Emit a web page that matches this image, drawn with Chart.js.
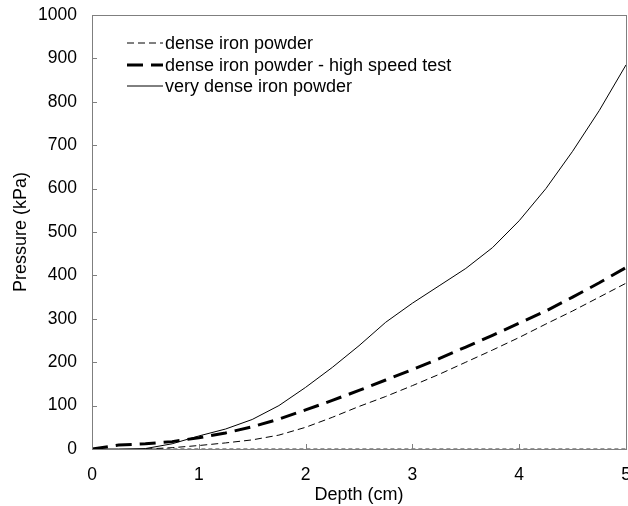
<!DOCTYPE html>
<html>
<head>
<meta charset="utf-8">
<script src="https://cdn.jsdelivr.net/npm/chart.js@4/dist/chart.umd.min.js"></script>
<style>
  html, body { margin: 0; padding: 0; background: #fff; overflow: hidden; }
  #wrap { width: 628px; height: 506px; position: relative; }
</style>
</head>
<body>
<div id="wrap"><canvas id="c"></canvas></div>
<script>
const depth = [0, 0.25, 0.5, 0.75, 1, 1.25, 1.5, 1.75, 2, 2.25, 2.5, 2.75, 3, 3.25, 3.5, 3.75, 4, 4.25, 4.5, 4.75, 5];
const denseIron     = [0, 0, 0, 3, 8, 14, 21, 32, 50, 73, 98, 121, 146, 172, 200, 228, 257, 288, 318, 350, 382];
const highSpeed     = [0, 9, 12, 17, 26, 37, 51, 69, 90, 112, 135, 159, 183, 208, 235, 262, 290, 318, 350, 383, 418];
const veryDense     = [0, 0, 1, 12, 30, 46, 68, 100, 142, 188, 238, 292, 336, 376, 416, 464, 526, 600, 686, 780, 885];
const baselineDepth = [0.5, 5];
const baselineValue = [0, 0];
const seriesNames = ["dense iron powder", "dense iron powder - high speed test", "very dense iron powder"];
const xTicks = [0, 1, 2, 3, 4, 5];
const yTicks = [0, 100, 200, 300, 400, 500, 600, 700, 800, 900, 1000];

const pts = (xs, ys) => xs.map((x, i) => ({x: x, y: ys[i]}));
const FONT = "'Liberation Sans', Arial, sans-serif";
const FS = 18;
const TFS = 17.5;
const AXIS = '#7f7f7f';

const frame = {
  id: 'frame',
  afterDatasetsDraw(chart) {
    const {ctx, chartArea: a, scales} = chart;
    ctx.save();
    ctx.strokeStyle = AXIS;
    ctx.lineWidth = 1;
    ctx.setLineDash([]);
    ctx.strokeRect(Math.round(a.left) + 0.5, Math.round(a.top) + 0.5, Math.round(a.right - a.left), Math.round(a.bottom - a.top));
    ctx.beginPath();
    xTicks.forEach(v => {
      const x = Math.round(scales.x.getPixelForValue(v)) + 0.5;
      ctx.moveTo(x, a.bottom); ctx.lineTo(x, a.bottom - 5);
    });
    yTicks.forEach(v => {
      const y = Math.round(scales.y.getPixelForValue(v)) + 0.5;
      ctx.moveTo(a.left, y); ctx.lineTo(a.left + 5, y);
    });
    ctx.stroke();
    // legend
    const ds = chart.data.datasets;
    ctx.font = FS + 'px ' + FONT;
    ctx.textBaseline = 'middle';
    ctx.fillStyle = '#000';
    const lx = a.left + 35, rows = [a.top + 28, a.top + 50, a.top + 71];
    for (let i = 0; i < 3; i++) {
      const d = ds[i];
      ctx.strokeStyle = d.borderColor;
      ctx.lineWidth = d.borderWidth;
      ctx.setLineDash(d.borderDash || []);
      ctx.beginPath();
      ctx.moveTo(lx, rows[i]); ctx.lineTo(lx + 36, rows[i]);
      ctx.stroke();
      ctx.fillText(d.label, lx + 38, rows[i] + 1);
    }
    ctx.restore();
  }
};

new Chart(document.getElementById('c'), {
  type: 'line',
  data: {
    datasets: [
      { label: seriesNames[0], data: pts(depth.slice(2), denseIron.slice(2)), borderColor: '#000', borderWidth: 1, borderDash: [7, 4] },
      { label: seriesNames[1], data: pts(depth, highSpeed), borderColor: '#000', borderWidth: 3, borderDash: [16, 8] },
      { label: seriesNames[2], data: pts(depth, veryDense), borderColor: '#000', borderWidth: 1 },
      { label: 'baseline', data: pts(baselineDepth, baselineValue), borderColor: '#333', borderWidth: 1, borderDash: [4, 3] }
    ]
  },
  options: {
    responsive: true,
    maintainAspectRatio: false,
    animation: false,
    layout: { padding: { top: 15, left: 0, right: 2, bottom: 0 } },
    elements: { point: { radius: 0 }, line: { tension: 0, fill: false } },
    plugins: { legend: { display: false }, tooltip: { enabled: false } },
    scales: {
      x: {
        type: 'linear', min: 0, max: 5,
        afterBuildTicks: s => { s.ticks = xTicks.map(v => ({value: v})); },
        afterFit: s => { s.height = 57; s.paddingLeft = 0; s.paddingRight = 0; s.paddingTop = 0; s.paddingBottom = 0; },
        grid: { display: false },
        border: { display: false },
        ticks: { color: '#000', font: { size: TFS, family: FONT }, padding: 8, maxRotation: 0, callback: v => String(v) },
        title: { display: true, text: 'Depth (cm)', color: '#000', font: { size: FS, family: FONT }, padding: { top: 0, bottom: 0 } }
      },
      y: {
        min: 0, max: 1000,
        afterBuildTicks: s => { s.ticks = yTicks.map(v => ({value: v})); },
        afterFit: s => { s.width = 92; s.paddingLeft = 0; s.paddingRight = 0; s.paddingTop = 0; s.paddingBottom = 0; },
        grid: { display: false },
        border: { display: false },
        ticks: { color: '#000', font: { size: TFS, family: FONT }, padding: 7, callback: v => String(v) },
        title: { display: true, text: 'Pressure (kPa)', color: '#000', font: { size: FS, family: FONT }, padding: { top: 10, bottom: 0 } }
      }
    }
  },
  plugins: [frame]
});
</script>
</body>
</html>
